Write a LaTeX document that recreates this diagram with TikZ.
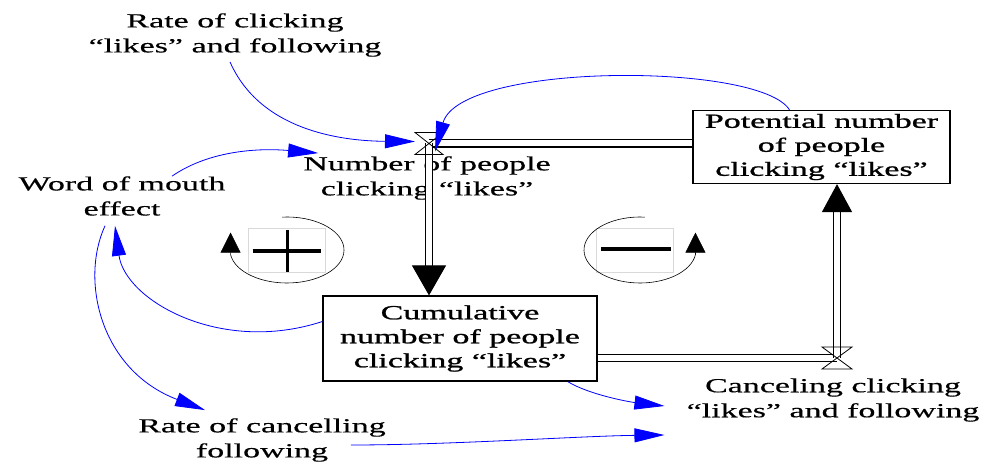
\documentclass[tikz,border=0pt]{standalone}
\usepackage{fontspec}
\setmainfont{Liberation Serif}[FakeStretch=1.7,FakeBold=0.4]
\newfontfamily\boxfont{Liberation Serif}[FakeStretch=1.7,FakeBold=1.2]
\usetikzlibrary{arrows.meta,calc}
\begin{document}
\begin{tikzpicture}[x=1pt,y=-1pt,
  lbl/.style={align=center,inner sep=0pt,font=\fontsize{20}{25}\selectfont},
  stockbox/.style={draw,line width=1.2pt,align=center,inner sep=0pt,font=\boxfont\fontsize{20}{24}\selectfont},
  pipeline/.style={draw,double,double distance=6pt,line width=1.2pt},
  lnk/.style={blue,line width=0.8pt,-{Triangle[length=30pt,width=14pt]}},
  fbloop/.style={line width=0.6pt,-{Triangle[length=20pt,width=20pt]}},
  valveline/.style={line width=0.8pt},
  polbox/.style={draw=black!15,line width=0.6pt,minimum width=77pt,minimum height=44pt,inner sep=0pt},
]
\useasboundingbox (0,0) rectangle (982,462);

% stocks
\node[stockbox,minimum width=257pt,minimum height=73pt] (potential) at (821.5,147) {Potential number\\of people\\clicking “likes”};
\node[stockbox,minimum width=274pt,minimum height=85pt] (cumul) at (460,338.5) {Cumulative\\number of people\\clicking “likes”};

% labels
\node[lbl] (rateclick) at (235,35) {Rate of clicking\\“likes” and following};
\node[lbl] (numpeople) at (427,178) {Number of people\\clicking “likes”};
\node[lbl] (wom) at (122,196) {Word of mouth\\effect};
\node[lbl] (ratecancel) at (262,440) {Rate of cancelling\\following};
\node[lbl] (canceling) at (833,400) {Canceling clicking\\“likes” and following};

% valves
\coordinate (v1) at (429,143.5);
\coordinate (v2) at (837,358);

% pipes
\draw[pipeline] (v1) -- (v1 -| potential.west);
\draw[pipeline,-{Triangle[length=30pt,width=34pt]}] (v1) -- (v1 |- cumul.north);
\draw[pipeline] (v2 -| cumul.east) -- (v2);
\draw[pipeline,-{Triangle[length=28pt,width=30pt]}] (v2) -- (v2 |- potential.south);

\draw[valveline] ($(v1)+(-14,-11)$) -- ++(28,0) -- ($(v1)+(-14,11)$) -- ++(28,0) -- cycle;
\draw[valveline] ($(v2)+(-15,-11)$) -- ++(30,0) -- ($(v2)+(-15,11)$) -- ++(30,0) -- cycle;

% information links
\draw[lnk] ($(rateclick.south)+(-5,5)$) .. controls (260,130) and (340,141) .. ($(v1)+(-14,-2)$);
\draw[lnk] ([xshift=-32pt]potential.north) .. controls (760,62) and (460,62) .. ($(v1)+(6,8)$);
\draw[lnk] ([xshift=50pt]wom.north) .. controls (210,150) and (260,148) .. ($(numpeople.north west)+(15,-3)$);
\draw[lnk] ([yshift=17pt]cumul.west) .. controls (220,355) and (125,300) .. ($(wom.south)+(-7,10)$);
\draw[lnk] ($(wom.south)+(-17,10)$) .. controls (80,280) and (100,370) .. ($(ratecancel.north)+(-57,-8)$);
\draw[lnk] ([xshift=-30pt]cumul.south east) .. controls (590,395) and (630,402) .. ($(canceling.west)+(-22,6)$);
\draw[lnk] ($(ratecancel.east)+(-35,5)$) .. controls (450,445) and (580,436) .. ($(canceling.west)+(-22,35)$);

% loop polarity
\node[polbox] (plus) at (286.5,250) {};
\draw[line width=3.5pt] ($(plus.center)+(-34,1)$) -- ($(plus.center)+(34,1)$);
\draw[line width=3.5pt] ($(plus.center)+(1,-20)$) -- ($(plus.center)+(1,22)$);
\draw[fbloop] (287,250) ++(-95:57 and 33) arc[start angle=-95,end angle=172,x radius=57,y radius=33] -- ++(0,-22);

\node[polbox] (minus) at (635,250) {};
\draw[line width=3.5pt] ($(minus.center)+(-34,-1)$) -- ($(minus.center)+(36,-1)$);
\draw[fbloop] (640,250) ++(-85:56 and 33) arc[start angle=-85,end angle=-352,x radius=56,y radius=33] -- ++(0,-22);
\end{tikzpicture}
\end{document}
